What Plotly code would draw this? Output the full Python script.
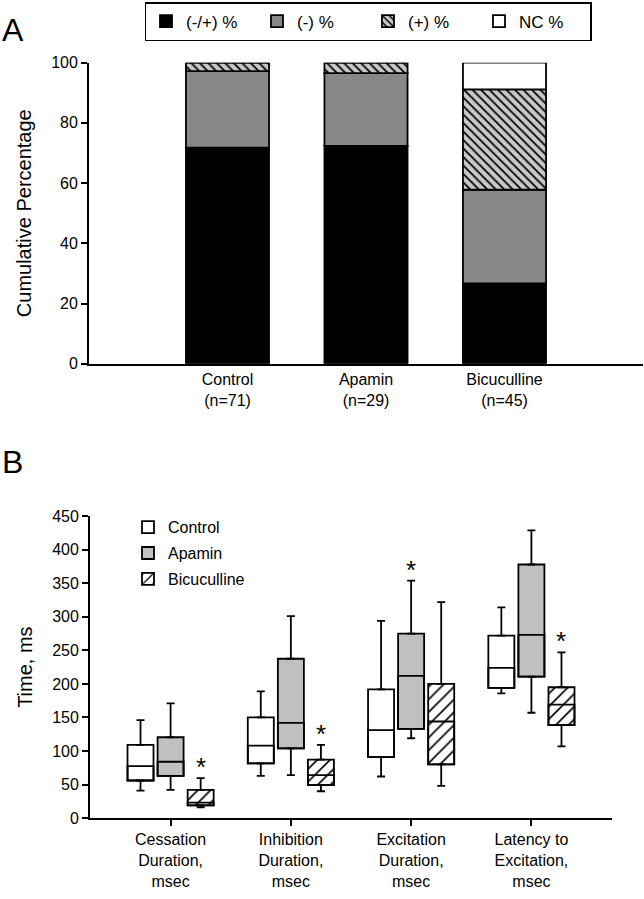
import numpy as np
import plotly.graph_objects as go

# ---------------- Panel A data ----------------
groups_a = ["Control", "Apamin", "Bicuculline"]
group_n = [71, 29, 45]
pct_both = [71.8, 72.4, 26.7]    # (-/+) %
pct_minus = [25.4, 24.1, 31.1]   # (-) %
pct_plus = [2.8, 3.5, 33.3]      # (+) %
pct_nc = [0.0, 0.0, 8.9]         # NC %
a_series_names = ["(-/+) %", "(-) %", "(+) %", "NC %"]
a_ticks = [0, 20, 40, 60, 80, 100]

# ---------------- Panel B data ----------------
measures = ["Cessation<br>Duration,<br>msec", "Inhibition<br>Duration,<br>msec",
            "Excitation<br>Duration,<br>msec", "Latency to<br>Excitation,<br>msec"]
treatments = ["Control", "Apamin", "Bicuculline"]

control_lower = [41, 63, 62, 186]
control_q1 = [56, 81.5, 91, 194]
control_median = [77.5, 108, 131, 224]
control_q3 = [109, 150, 192, 272]
control_upper = [146, 189, 294, 314]

apamin_lower = [42, 64, 119, 157]
apamin_q1 = [63, 104, 133, 211]
apamin_median = [84, 142, 212, 273]
apamin_q3 = [120.5, 237.5, 275, 378]
apamin_upper = [171, 301, 354, 429]

bicuculline_lower = [16, 40, 48, 107]
bicuculline_q1 = [19, 49, 80, 138.5]
bicuculline_median = [23, 64, 144, 169]
bicuculline_q3 = [42, 87, 200, 195]
bicuculline_upper = [59.5, 109, 322, 247]

control_significant = [False, False, False, False]
apamin_significant = [False, False, True, False]
bicuculline_significant = [True, True, False, True]

b_ticks = list(range(0, 451, 50))

# ---------------- styles ----------------
FONT = "Arial, Liberation Sans, sans-serif"
BLACK = "#000000"
W, H = 644, 899
BARGAP = 0.25
BARGROUPGAP = 0.135
LW = 1.8

fig = go.Figure()

# ---- Panel A: stacked bars (explicit cumulative base) ----
xa_labels = [f"{g}<br>(n={n})" for g, n in zip(groups_a, group_n)]
a_values = [pct_both, pct_minus, pct_plus, pct_nc]
a_markers = [
    dict(color="#000000"),
    dict(color="#888888"),
    dict(color="#c8c8c8", pattern=dict(shape="\\", fgcolor="#000000", bgcolor="#c8c8c8",
                                       size=6, solidity=0.3, fillmode="replace")),
    dict(color="#ffffff"),
]
cum = np.zeros(len(groups_a))
for name, vals, mk in zip(a_series_names, a_values, a_markers):
    vals = np.array(vals, dtype=float)
    mk = dict(mk)
    mk["line"] = dict(color=BLACK, width=LW)
    fig.add_trace(go.Bar(
        x=xa_labels, y=vals, base=cum.copy(), name=name, marker=mk,
        width=0.6, offsetgroup="A", xaxis="x", yaxis="y", legend="legend",
        hoverinfo="skip"))
    cum = cum + vals

# ---- Panel B: box plots drawn as bars + error bars ----
b_fill = {
    "Control": dict(color="#ffffff"),
    "Apamin": dict(color="#c0c0c0"),
    "Bicuculline": dict(color="#ffffff", pattern=dict(shape="/", fgcolor="#000000",
                                                      bgcolor="#ffffff", size=9,
                                                      solidity=0.18, fillmode="replace")),
}
b_stats = {
    "Control": (control_lower, control_q1, control_median, control_q3, control_upper, control_significant),
    "Apamin": (apamin_lower, apamin_q1, apamin_median, apamin_q3, apamin_upper, apamin_significant),
    "Bicuculline": (bicuculline_lower, bicuculline_q1, bicuculline_median, bicuculline_q3,
                    bicuculline_upper, bicuculline_significant),
}
LINE = dict(color=BLACK, width=LW)
annotations = []
slot = (1 - BARGAP) / len(treatments)
for k, t in enumerate(treatments):
    lo, q1, med, q3, hi, sig = [np.array(v, dtype=float) for v in b_stats[t]]
    mk = dict(b_fill[t])
    mk["line"] = LINE
    # box body with upper whisker
    fig.add_trace(go.Bar(
        x=measures, base=q1, y=q3 - q1, name=t, marker=mk,
        offsetgroup=t, legendgroup=t, legend="legend2", xaxis="x2", yaxis="y2",
        error_y=dict(type="data", symmetric=False, array=hi - q3, arrayminus=np.zeros(4),
                     color=BLACK, thickness=LW, width=4),
        hoverinfo="skip"))
    # median line (outline of q1..median rectangle)
    fig.add_trace(go.Bar(
        x=measures, base=q1, y=med - q1, name=t + " median",
        marker=dict(color="rgba(0,0,0,0)", line=LINE), showlegend=False,
        offsetgroup=t, legendgroup=t, legend="legend2", xaxis="x2", yaxis="y2",
        hoverinfo="skip"))
    # lower whisker
    fig.add_trace(go.Bar(
        x=measures, base=lo, y=q1 - lo, name=t + " lower",
        marker=dict(color="rgba(0,0,0,0)", line=dict(width=0)), showlegend=False,
        offsetgroup=t, legendgroup=t, legend="legend2", xaxis="x2", yaxis="y2",
        error_y=dict(type="data", symmetric=False, array=np.zeros(4), arrayminus=q1 - lo,
                     color=BLACK, thickness=LW, width=4),
        hoverinfo="skip"))
    for i, s in enumerate(sig):
        if s:
            annotations.append(dict(
                x=i + (k - (len(treatments) - 1) / 2) * slot, y=hi[i], xref="x2", yref="y2",
                text="*", showarrow=False, yanchor="bottom", yshift=-6,
                font=dict(family=FONT, size=26, color=BLACK)))

annotations.append(dict(x=0.0, y=1 - 22 / H, xref="paper", yref="paper", text="A",
                        showarrow=False, xanchor="left", yanchor="middle",
                        font=dict(family=FONT, size=32, color=BLACK)))
annotations.append(dict(x=0.0, y=1 - 463 / H, xref="paper", yref="paper", text="B",
                        showarrow=False, xanchor="left", yanchor="middle",
                        font=dict(family=FONT, size=32, color=BLACK)))

axis_common = dict(showline=True, linecolor=BLACK, linewidth=LW, showgrid=False,
                   zeroline=False, tickcolor=BLACK, tickwidth=LW, ticklen=6,
                   tickfont=dict(family=FONT, size=16, color=BLACK))

fig.update_layout(
    width=W, height=H, margin=dict(l=0, r=0, t=0, b=0),
    paper_bgcolor="#ffffff", plot_bgcolor="#ffffff",
    barmode="group", bargap=BARGAP, bargroupgap=BARGROUPGAP,
    font=dict(family=FONT, color=BLACK),
    xaxis=dict(domain=[89 / W, 643 / W], anchor="y", type="category",
               range=[-1, 3], ticks="", **{k: v for k, v in axis_common.items() if k not in ("ticklen",)}),
    yaxis=dict(domain=[1 - 362.7 / H, 1 - 55.7 / H], anchor="x", range=[0, 100],
               tickvals=a_ticks, ticks="outside",
               title=dict(text="Cumulative Percentage", font=dict(family=FONT, size=20, color=BLACK),
                          standoff=14),
               **axis_common),
    xaxis2=dict(domain=[90 / W, 612 / W], anchor="y2", type="category",
                range=[-0.67, 3.67], ticks="outside", **axis_common),
    yaxis2=dict(domain=[1 - 825.7 / H, 1 - 518 / H], anchor="x2", range=[0, 450],
                tickvals=b_ticks, ticks="outside",
                title=dict(text="Time, ms", font=dict(family=FONT, size=20, color=BLACK), standoff=14),
                **axis_common),
    legend=dict(orientation="h", x=368 / W, xanchor="center", y=1 + 6 / H, yanchor="top",
                bordercolor=BLACK, borderwidth=1.5, bgcolor="#ffffff",
                font=dict(family=FONT, size=17, color=BLACK), entrywidth=66,
                traceorder="normal"),
    legend2=dict(orientation="v", x=128 / W, xanchor="left", y=1 - 512 / H, yanchor="top",
                 bgcolor="rgba(0,0,0,0)", borderwidth=0, tracegroupgap=2,
                 font=dict(family=FONT, size=16, color=BLACK), traceorder="grouped"),
    annotations=annotations,
    showlegend=True,
)

fig.write_html("out.html", config={"displayModeBar": False},
               post_script="document.body.style.margin='0';document.body.style.padding='0';"
                           "document.documentElement.style.overflow='hidden';")
